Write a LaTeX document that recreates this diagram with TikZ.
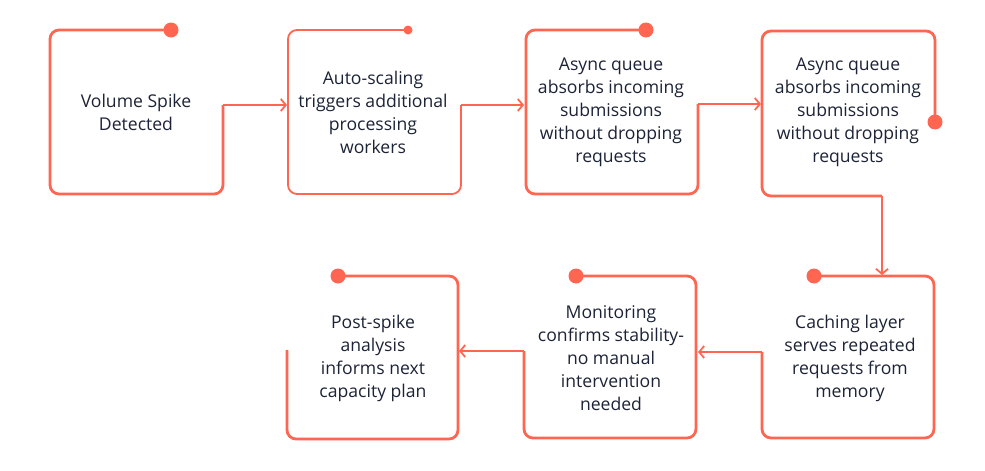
\documentclass[tikz,border=0pt]{standalone}
\usepackage{fontspec}
\setmainfont{Open Sans}
\usetikzlibrary{arrows.meta}
\definecolor{acc}{HTML}{FF6652}
\definecolor{ink}{HTML}{1C2336}
\tikzset{
  outline/.style={draw=acc, line width=2.8pt, rounded corners=9pt},
  thinoutline/.style={draw=acc, line width=1.8pt, rounded corners=9pt},
  link/.style={draw=acc, line width=1.8pt, -{Straight Barb[length=5pt,width=12pt,line width=1.8pt]}},
  label/.style={text=ink, align=center, font=\fontsize{17.6}{23}\selectfont},
  bigdot/.style={circle, fill=acc, minimum size=15pt, inner sep=0pt},
  smalldot/.style={circle, fill=acc, minimum size=9pt, inner sep=0pt},
}
\begin{document}
\begin{tikzpicture}[x=1pt,y=-1pt]
\useasboundingbox (0,0) rectangle (985,471);
% text nodes
\node[label] (t1) at (136,112) {Volume Spike\\Detected};
\node[label] (t2) at (373,112) {Auto-scaling\\triggers additional\\processing\\workers};
\node[label] (t3) at (611,112) {Async queue\\absorbs incoming\\submissions\\without dropping\\requests};
\node[label] (t4) at (848,112) {Async queue\\absorbs incoming\\submissions\\without dropping\\requests};
\node[label] (t5) at (850,358) {Caching layer\\serves repeated\\requests from\\memory};
\node[label] (t6) at (611,358) {Monitoring\\confirms stability-\\no manual\\intervention\\needed};
\node[label] (t7) at (373,358) {Post-spike\\analysis\\informs next\\capacity plan};
% box 1
\coordinate (b1a) at (171,30); \coordinate (b1b) at (50,30); \coordinate (b1c) at (50,194);
\coordinate (b1d) at (223,194); \coordinate (b1e) at (223,105); \coordinate (b2in) at (287,105);
\draw[outline] (b1a) -- (b1b) -- (b1c) -- (b1d) -- (b1e);
\draw[link] (b1e) -- (b2in);
\node[bigdot] (d1) at (b1a) {};
% box 2
\coordinate (b2a) at (408,30); \coordinate (b2b) at (288,30); \coordinate (b2c) at (288,194);
\coordinate (b2d) at (461,194); \coordinate (b2e) at (461,105); \coordinate (b3in) at (524,105);
\draw[thinoutline] (b2a) -- (b2b) -- (b2c) -- (b2d) -- (b2e);
\draw[link] (b2e) -- (b3in);
\node[smalldot] (d2) at (b2a) {};
% box 3
\coordinate (b3a) at (646,30); \coordinate (b3b) at (526,30); \coordinate (b3c) at (526,194);
\coordinate (b3d) at (698,194); \coordinate (b3e) at (698,104); \coordinate (b4in) at (761,104);
\draw[outline] (b3a) -- (b3b) -- (b3c) -- (b3d) -- (b3e);
\draw[link] (b3e) -- (b4in);
\node[bigdot] (d3) at (b3a) {};
% box 4
\coordinate (b4a) at (935,122); \coordinate (b4b) at (935,31); \coordinate (b4c) at (762,31);
\coordinate (b4d) at (762,196); \coordinate (b4e) at (882,196); \coordinate (b5in) at (882,275);
\draw[outline] (b4a) -- (b4b) -- (b4c) -- (b4d) -- (b4e);
\draw[link] (b4e) -- (b5in);
\node[bigdot] (d4) at (b4a) {};
% box 5
\coordinate (b5a) at (814,276); \coordinate (b5b) at (934,276); \coordinate (b5c) at (934,438);
\coordinate (b5d) at (762,438); \coordinate (b5e) at (762,352); \coordinate (b6in) at (698,352);
\draw[outline] (b5a) -- (b5b) -- (b5c) -- (b5d) -- (b5e);
\draw[link] (b5e) -- (b6in);
\node[bigdot] (d5) at (b5a) {};
% box 6
\coordinate (b6a) at (576,276); \coordinate (b6b) at (696,276); \coordinate (b6c) at (696,438);
\coordinate (b6d) at (524,438); \coordinate (b6e) at (524,351); \coordinate (b7in) at (459,351);
\draw[outline] (b6a) -- (b6b) -- (b6c) -- (b6d) -- (b6e);
\draw[link] (b6e) -- (b7in);
\node[bigdot] (d6) at (b6a) {};
% box 7
\coordinate (b7a) at (338,276); \coordinate (b7b) at (458,276); \coordinate (b7c) at (458,439);
\coordinate (b7d) at (287,439); \coordinate (b7e) at (287,350);
\draw[outline] (b7a) -- (b7b) -- (b7c) -- (b7d) -- (b7e);
\node[bigdot] (d7) at (b7a) {};
\end{tikzpicture}
\end{document}
